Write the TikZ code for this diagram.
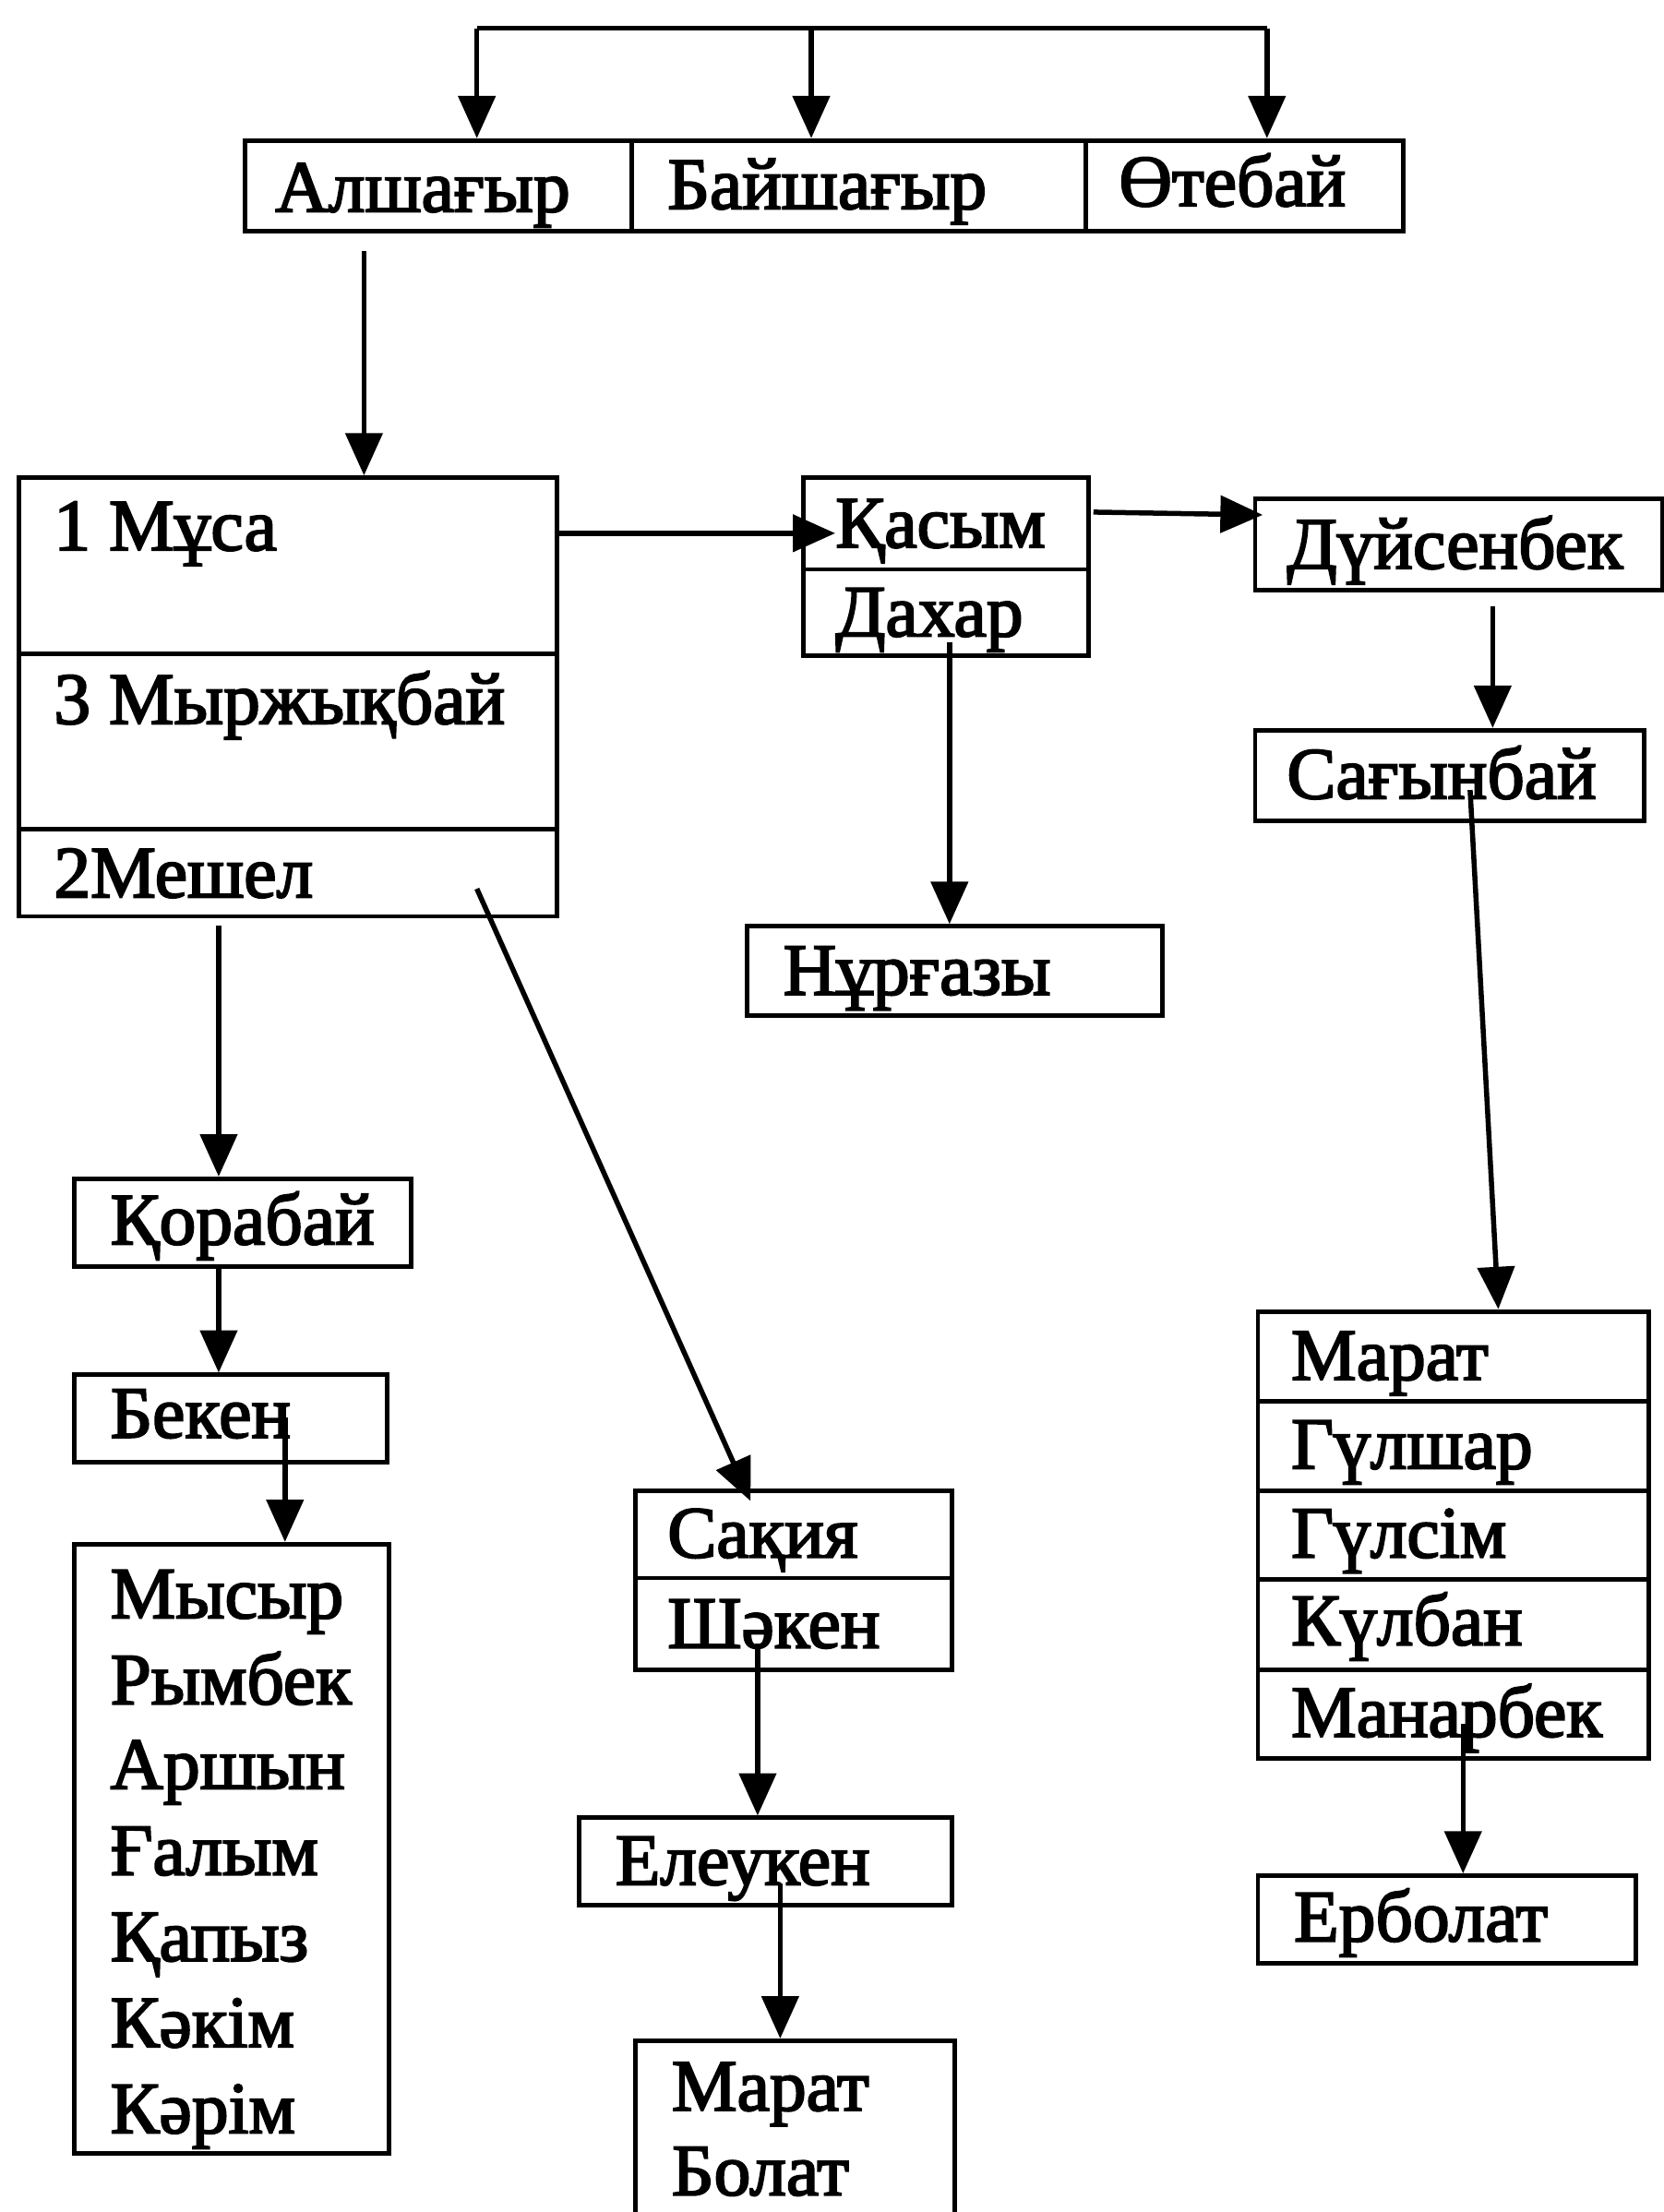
\documentclass[tikz,border=0pt]{standalone}
\usepackage{fontspec}
\setmainfont{Liberation Serif}
\newfontfamily\heavy{Liberation Serif}[FakeBold=2.6]
\usetikzlibrary{arrows.meta}
\begin{document}
\begin{tikzpicture}[x=1pt,y=-1pt,
  box/.style={draw, line width=3.2pt, inner sep=0pt, anchor=north west},
  txt/.style={anchor=base west, inner sep=0pt, font=\heavy\fontsize{52}{62}\selectfont},
  ln/.style={line width=3.6pt},
  arr/.style={line width=3.6pt, -{Triangle[width=26pt,length=30pt]}}]
\useasboundingbox (0,0) rectangle (1179,1568);
% ---- boxes ----
\node[box, minimum width=274, minimum height=64] (al)  at (172,98) {};
\node[box, minimum width=322, minimum height=64] (bai) at (446,98) {};
\node[box, minimum width=225, minimum height=64] (ot)  at (768,98) {};
\node[box, minimum width=381, minimum height=125] (mus) at (12,337) {};
\node[box, minimum width=381, minimum height=124] (myr) at (12,462) {};
\node[box, minimum width=381, minimum height=62]  (mes) at (12,586) {};
\node[box, minimum width=202, minimum height=65] (qas) at (568,337) {};
\node[box, minimum width=202, minimum height=61] (dah) at (568,402) {};
\node[box, minimum width=289, minimum height=65] (duis) at (888,352) {};
\node[box, minimum width=276, minimum height=64] (sag) at (888,516) {};
\node[box, minimum width=294, minimum height=63] (nur) at (528,655) {};
\node[box, minimum width=239, minimum height=62] (qor) at (51,834) {};
\node[box, minimum width=222, minimum height=62] (bek) at (51,973) {};
\node[box, minimum width=223, minimum height=432] (lst) at (51,1093) {};
\node[box, minimum width=224, minimum height=62] (sak) at (449,1055) {};
\node[box, minimum width=224, minimum height=65] (shk) at (449,1117) {};
\node[box, minimum width=264, minimum height=62] (ele) at (409,1287) {};
\node[box, minimum width=226, minimum height=160] (mb) at (449,1445) {};
\node[box, minimum width=277, minimum height=64] (r1) at (890,928) {};
\node[box, minimum width=277, minimum height=63] (r2) at (890,992) {};
\node[box, minimum width=277, minimum height=63] (r3) at (890,1055) {};
\node[box, minimum width=277, minimum height=64] (r4) at (890,1118) {};
\node[box, minimum width=277, minimum height=63] (r5) at (890,1182) {};
\node[box, minimum width=268, minimum height=62] (erb) at (890,1328) {};
% ---- texts ----
\node[txt] (tal)  at (195,150) {Алшағыр};
\node[txt] (tbai) at (473,148) {Байшағыр};
\node[txt] (tot)  at (793,146) {Өтебай};
\node[txt] (tmus) at (38,390) {1 Мұса};
\node[txt] (tmyr) at (38,513) {3 Мыржықбай};
\node[txt] (tmes) at (38,636) {2Мешел};
\node[txt] (tqas) at (592,388) {Қасым};
\node[txt] (tdah) at (592,451) {Дахар};
\node[txt] (tduis) at (912,403) {Дүйсенбек};
\node[txt] (tsag) at (912,566) {Сағынбай};
\node[txt] (tnur) at (555,705) {Нұрғазы};
\node[txt] (tqor) at (78,882) {Қорабай};
\node[txt] (tbek) at (78,1019) {Бекен};
\node[txt] (l1) at (78,1147) {Мысыр};
\node[txt] (l2) at (78,1208) {Рымбек};
\node[txt] (l3) at (78,1268) {Аршын};
\node[txt] (l4) at (78,1329) {Ғалым};
\node[txt] (l5) at (78,1390) {Қапыз};
\node[txt] (l6) at (78,1451) {Кәкім};
\node[txt] (l7) at (78,1512) {Кәрім};
\node[txt] (tsak) at (473,1104) {Сақия};
\node[txt] (tshk) at (473,1168) {Шәкен};
\node[txt] (tele) at (436,1336) {Елеукен};
\node[txt] (tm1) at (476,1496) {Марат};
\node[txt] (tm2) at (476,1556) {Болат};
\node[txt] (tr1) at (915,978) {Марат};
\node[txt] (tr2) at (915,1041) {Гүлшар};
\node[txt] (tr3) at (915,1104) {Гүлсім};
\node[txt] (tr4) at (915,1166) {Күлбан};
\node[txt] (tr5) at (915,1231) {Манарбек};
\node[txt] (terb) at (917,1376) {Ерболат};
% ---- connector coordinates ----
\coordinate (tl) at (338,20);
\coordinate (tm) at (575,20);
\coordinate (tr) at (898,20);
\coordinate (a1) at (258,178);
\coordinate (m1) at (393,378);
\coordinate (q1) at (592,378);
\coordinate (q2) at (775,363);
\coordinate (q3) at (895,365);
\coordinate (d1) at (1058,430);
\coordinate (s1) at (1042,560);
\coordinate (s2) at (1062,928);
\coordinate (mn) at (1037,1222);
\coordinate (dh) at (673,455);
\coordinate (me1) at (155,656);
\coordinate (qo) at (155,896);
\coordinate (bk) at (202,1005);
\coordinate (me2) at (338,630);
\coordinate (sk) at (532,1064);
\coordinate (sh) at (537,1165);
\coordinate (el) at (553,1335);
% ---- connectors ----
\draw[ln] (tl) -- (tr);
\draw[arr] (tl) -- (tl |- al.north);
\draw[arr] (tm) -- (tm |- bai.north);
\draw[arr] (tr) -- (tr |- ot.north);
\draw[arr] (a1) -- (a1 |- mus.north);
\draw[arr] (m1) -- (q1);
\draw[arr] (q2) -- (q3);
\draw[arr] (d1) -- (d1 |- sag.north);
\draw[arr] (s1) -- (s2);
\draw[arr] (mn) -- (mn |- erb.north);
\draw[arr] (dh) -- (dh |- nur.north);
\draw[arr] (me1) -- (me1 |- qor.north);
\draw[arr] (qo) -- (qo |- bek.north);
\draw[arr] (bk) -- (bk |- lst.north);
\draw[arr] (me2) -- (sk);
\draw[arr] (sh) -- (sh |- ele.north);
\draw[arr] (el) -- (el |- mb.north);
\end{tikzpicture}
\end{document}
